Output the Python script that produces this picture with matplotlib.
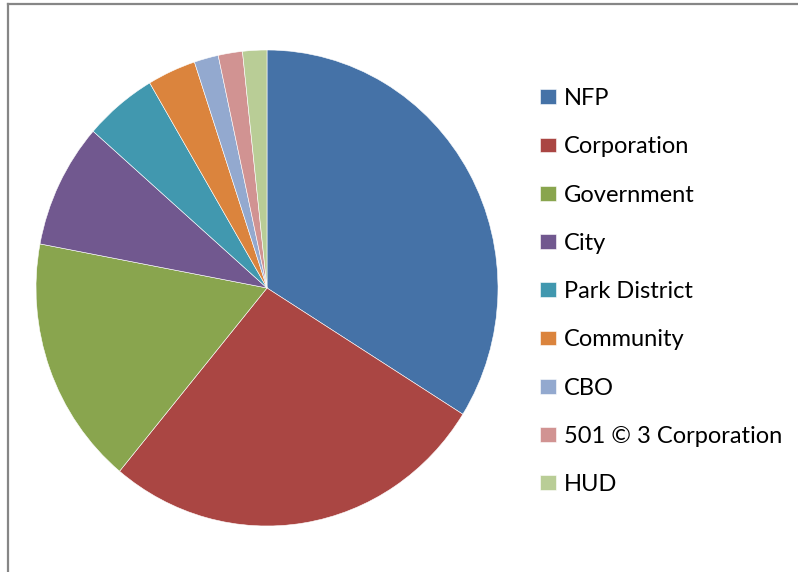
import matplotlib
matplotlib.use("Agg")
import matplotlib.pyplot as plt
from matplotlib.lines import Line2D

plt.rcParams['font.family'] = ['Lato', 'DejaVu Sans']

# partner counts by organisation type
labels = ['NFP', 'Corporation', 'Government', 'City', 'Park District',
          'Community', 'CBO', '501 \u00a9 3 Corporation', 'HUD']
counts = [20, 16, 10, 5, 3, 2, 1, 1, 1]
colors = ['#4572A7', '#AA4643', '#89A54E', '#71588F', '#4198AF',
          '#DB843D', '#93A9CF', '#D19392', '#B9CD96']

W, H = 798, 572
fig = plt.figure(figsize=(W / 100, H / 100), dpi=100)

# pie box in pixels: slightly taller than wide
cx, cy, rx, ry = 267, 288, 231, 238
ax = fig.add_axes([(cx - rx) / W, (H - cy - ry) / H, 2 * rx / W, 2 * ry / H])
wedges, _ = ax.pie(counts, colors=colors, startangle=90, counterclock=False,
                   radius=1, wedgeprops=dict(edgecolor='white', linewidth=0.4))
ax.set_xlim(-1, 1)
ax.set_ylim(-1, 1)
ax.set_aspect('auto')
ax.axis('off')

fig.legend(wedges, labels, loc='upper left',
           bbox_to_anchor=(540 / W, 1 - 88 / H),
           frameon=False, fontsize=17, labelspacing=1.155,
           handlelength=0.68, handleheight=0.59, handletextpad=0.32,
           borderpad=0, borderaxespad=0)

# chart area frame (only top and left edges fall inside the image)
fig.add_artist(Line2D([8 / W, 8 / W], [-0.1, 1 - 4 / H], transform=fig.transFigure,
                      color='#868686', linewidth=1.6))
fig.add_artist(Line2D([8 / W, 1.1], [1 - 4 / H, 1 - 4 / H], transform=fig.transFigure,
                      color='#868686', linewidth=1.6))

fig.savefig('out.png', dpi=100, facecolor='white')
